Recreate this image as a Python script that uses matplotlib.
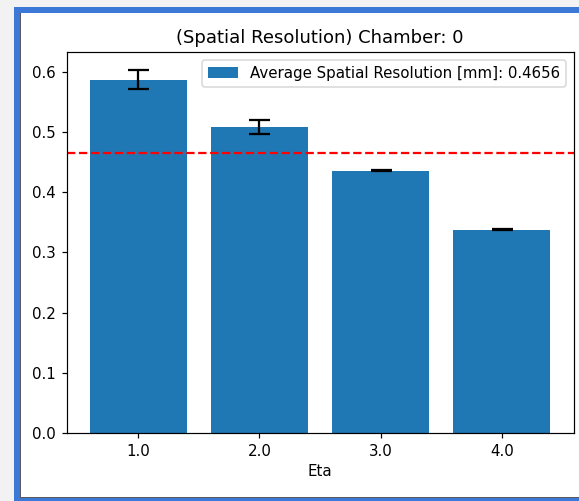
import matplotlib
matplotlib.use("Agg")
import matplotlib.pyplot as plt
from matplotlib.patches import Rectangle

# Data
eta = [1.0, 2.0, 3.0, 4.0]
eta_labels = ["1.0", "2.0", "3.0", "4.0"]
resolution = [0.587, 0.509, 0.436, 0.338]
resolution_err = [0.016, 0.0115, 0.0005, 0.0005]
average = 0.4656

W, H, DPI = 579, 501, 108
fig = plt.figure(figsize=(W / DPI, H / DPI), dpi=DPI, facecolor="#f2f2f2")

def px_rect(x0, y0, x1, y1, z, **kw):
    # pixel coords with origin at top-left
    r = Rectangle((x0 / W, 1 - y1 / H), (x1 - x0) / W, (y1 - y0) / H,
                  transform=fig.transFigure, zorder=z, **kw)
    fig.add_artist(r)

px_rect(14, 7, 620, 520, -30, facecolor="#3c78d8", edgecolor="none")
px_rect(20, 13, 620, 497.5, -20, facecolor="#5a5a5a", edgecolor="none")
px_rect(20.5, 13, 620, 496.5, -10, facecolor="white", edgecolor="none")

ax = fig.add_axes([66.5 / W, 1 - 433 / H, (573.5 - 66.5) / W, (433 - 52) / H])
ax.set_zorder(5)

ax.bar(eta, resolution, width=0.8, yerr=resolution_err, capsize=7, color="#1f77b4",
       error_kw=dict(ecolor="black", elinewidth=1.5, capthick=1.5),
       label=f"Average Spatial Resolution [mm]: {average}")
ax.axhline(average, color="red", linestyle="--", linewidth=1.5)

ax.set_xticks(eta)
ax.set_xticklabels(eta_labels)
ax.set_xlabel("Eta")
ax.set_title("(Spatial Resolution) Chamber: 0")
ax.legend(loc="upper right")

fig.savefig("out.png", dpi=DPI, facecolor=fig.get_facecolor())
